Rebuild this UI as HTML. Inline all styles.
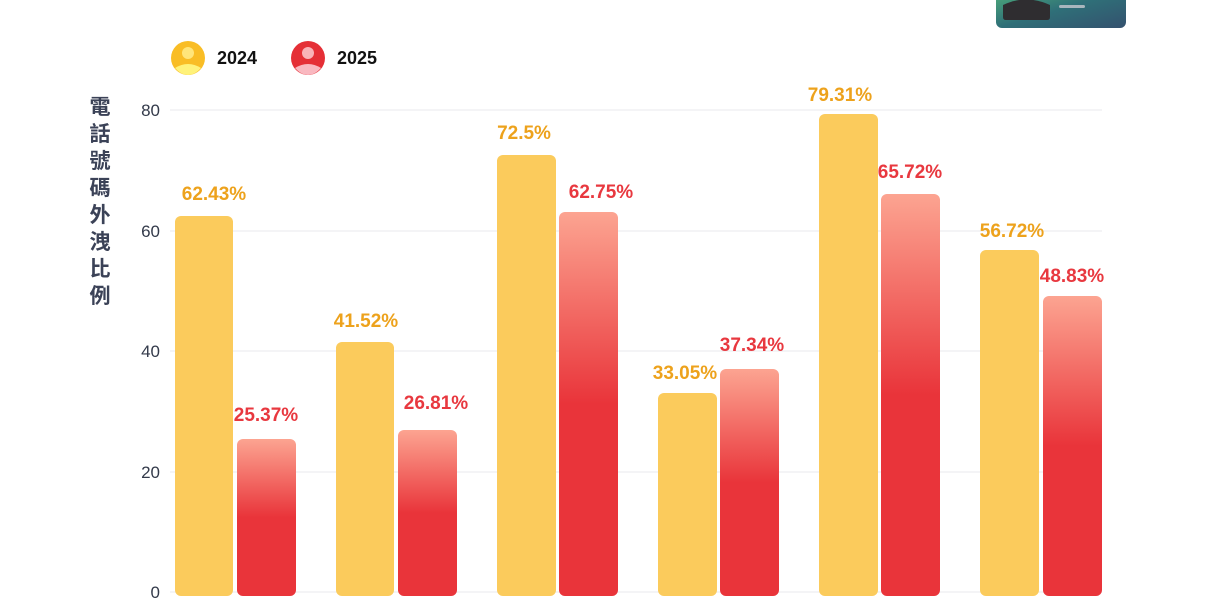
<!DOCTYPE html>
<html><head><meta charset="utf-8"><style>
body{margin:0;background:#fff;}
svg{display:block;font-family:"Liberation Sans","Noto Sans CJK TC",sans-serif;}
</style></head><body>
<svg width="1206" height="603" viewBox="0 0 1206 603" xmlns="http://www.w3.org/2000/svg">
<defs>
<linearGradient id="rg" x1="0" y1="0" x2="0" y2="1">
<stop offset="0" stop-color="#fca491"/>
<stop offset="0.5" stop-color="#e9343a"/>
<stop offset="1" stop-color="#e9343a"/>
</linearGradient>
<linearGradient id="img" x1="0" y1="0" x2="1" y2="1">
<stop offset="0" stop-color="#4fae7a"/><stop offset="0.5" stop-color="#2f6f78"/><stop offset="1" stop-color="#34516e"/>
</linearGradient>
</defs>
<rect x="996" y="-10" width="130" height="38" rx="6" fill="url(#img)"/>
<path d="M1003 5 Q1026 -6 1050 5 L1050 17 Q1050 20 1047 20 L1006 20 Q1003 20 1003 17 Z" fill="#2f2d30"/>
<rect x="1059" y="5" width="26" height="3" rx="1.5" fill="#a9b6bd"/>
<circle cx="188" cy="58" r="17" fill="#f9bd25"/>
<circle cx="188" cy="53" r="6" fill="#ffe57a"/>
<path d="M175 68 Q188 60 201 68 Q195 75 188 75 Q181 75 175 68Z" fill="#fff27a"/>
<text x="217" y="64" font-size="18" font-weight="bold" fill="#111">2024</text>
<circle cx="308" cy="58" r="17" fill="#e52f36"/>
<circle cx="308" cy="53" r="6" fill="#f9b3b8"/>
<path d="M295 68 Q308 60 321 68 Q315 75 308 75 Q301 75 295 68Z" fill="#f9b8c0"/>
<text x="337" y="64" font-size="18" font-weight="bold" fill="#111">2025</text>
<g stroke="#e8e8ec" stroke-width="1">
<line x1="170" y1="110" x2="1102" y2="110"/><line x1="170" y1="231" x2="1102" y2="231"/>
<line x1="170" y1="351" x2="1102" y2="351"/><line x1="170" y1="472" x2="1102" y2="472"/>
<line x1="170" y1="592" x2="1102" y2="592"/>
</g>
<g font-size="17" fill="#333a4a" text-anchor="end">
<text x="160" y="116">80</text><text x="160" y="237">60</text><text x="160" y="357">40</text><text x="160" y="478">20</text><text x="160" y="598">0</text>
</g>
<g font-size="21" font-weight="bold" fill="#3b4257" text-anchor="middle">
<text x="100" y="114">電</text><text x="100" y="141">話</text><text x="100" y="168">號</text><text x="100" y="195">碼</text><text x="100" y="222">外</text><text x="100" y="249">洩</text><text x="100" y="276">比</text><text x="100" y="303">例</text>
</g>
<g fill="#fbcb5c">
<rect x="175" y="216" width="58" height="380" rx="6"/>
<rect x="336" y="342" width="58" height="254" rx="6"/>
<rect x="497" y="155" width="59" height="441" rx="6"/>
<rect x="658" y="393" width="59" height="203" rx="6"/>
<rect x="819" y="114" width="59" height="482" rx="6"/>
<rect x="980" y="250" width="59" height="346" rx="6"/>
</g>
<g fill="url(#rg)">
<rect x="237" y="439" width="59" height="157" rx="6"/>
<rect x="398" y="430" width="59" height="166" rx="6"/>
<rect x="559" y="212" width="59" height="384" rx="6"/>
<rect x="720" y="369" width="59" height="227" rx="6"/>
<rect x="881" y="194" width="59" height="402" rx="6"/>
<rect x="1043" y="296" width="59" height="300" rx="6"/>
</g>
<g font-size="19" font-weight="bold" fill="#eda21c" text-anchor="middle">
<text x="214" y="200">62.43%</text><text x="366" y="327">41.52%</text><text x="524" y="139">72.5%</text>
<text x="685" y="379">33.05%</text><text x="840" y="101">79.31%</text><text x="1012" y="237">56.72%</text>
</g>
<g font-size="19" font-weight="bold" fill="#e8383f" text-anchor="middle">
<text x="266" y="421">25.37%</text><text x="436" y="409">26.81%</text><text x="601" y="198">62.75%</text>
<text x="752" y="351">37.34%</text><text x="910" y="178">65.72%</text><text x="1072" y="282">48.83%</text>
</g>
</svg>
</body></html>
